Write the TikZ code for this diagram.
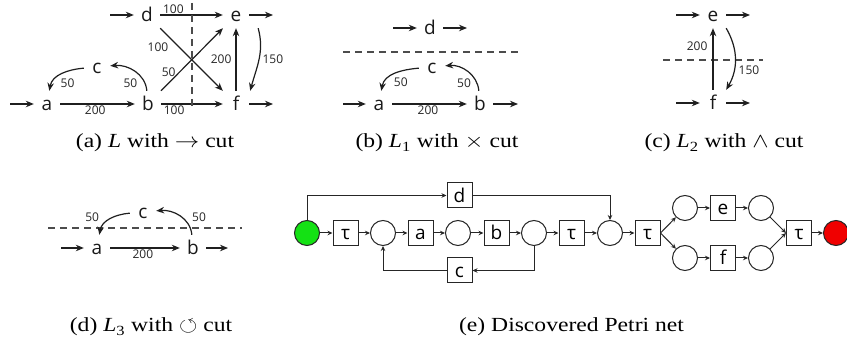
\documentclass[tikz,border=0pt]{standalone}
\usepackage{amssymb}
\usepackage{graphicx}
\usepackage{fontspec}
\setmainfont{Liberation Serif}
\newfontfamily\nodefont{Open Sans}
\usetikzlibrary{arrows.meta,calc}
\definecolor{pgreen}{RGB}{20,225,20}
\definecolor{pred}{RGB}{240,0,0}
\begin{document}
\begin{tikzpicture}[x=1pt,y=-1pt,
  lt/.style={font=\nodefont\fontsize{19}{19}\selectfont, minimum size=26pt, inner sep=0pt, text height=14pt, text depth=0pt, text=black!90},
  lbl/.style={font=\nodefont\fontsize{12}{12}\selectfont, inner sep=1pt, text=black!85},
  arr/.style={draw=black!88, line width=1.2pt, -{Stealth[length=8pt,width=6.5pt]}},
  cutline/.style={draw=black!70, line width=1.2pt, dash pattern=on 7pt off 5pt},
  captext/.style={font=\fontsize{20}{24}\selectfont, anchor=base, inner sep=0pt},
  place/.style={circle, draw=black!85, line width=1pt, minimum size=25pt, inner sep=0pt},
  trans/.style={rectangle, draw=black!85, line width=1pt, minimum size=25pt, inner sep=0pt, text height=14pt, text depth=0pt, font=\nodefont\fontsize{19}{19}\selectfont},
  parr/.style={draw=black!85, line width=1pt, -{Stealth[length=5pt,width=4.5pt]}},
]
\useasboundingbox (0,0) rectangle (847,344);

% ---------- (a) ----------
\node[lt] (d1) at (147,15) {d};
\node[lt] (e1) at (236,15) {e};
\node[lt] (c1) at (97,67) {c};
\node[lt] (a1) at (47,104) {a};
\node[lt] (b1) at (148,104) {b};
\node[lt] (f1) at (236,104) {f};
\coordinate (ina) at (10,104);
\coordinate (ind) at (110,15);
\coordinate (oute) at (273,15);
\coordinate (outf) at (273,104);
\coordinate (cuta1) at (192,3);
\coordinate (cuta2) at (192,110);
\draw[arr] (ina) -- (a1);
\draw[arr] (ind) -- (d1);
\draw[arr] (e1) -- (oute);
\draw[arr] (f1) -- (outf);
\draw[arr] (a1) -- node[lbl,pos=0.47,below] {200} (b1);
\draw[arr] (d1) -- node[lbl,pos=0.21,above] {100} (e1);
\draw[arr] (b1) -- node[lbl,pos=0.21,below] {100} (f1);
\draw[arr] (d1) -- node[lbl,pos=0.3,xshift=-21pt] {100} (f1);
\draw[arr] (b1) -- node[lbl,pos=0.3,xshift=-11pt] {50} (e1);
\draw[arr] (f1) -- node[lbl,left=3pt] {200} (e1);
\draw[arr] ($(e1.south east)+(9,0)$) to[out=-75,in=75] node[lbl,right=2pt] {150} ($(f1.north east)+(1,0)$);
\draw[arr] (c1) to[out=185,in=80] node[lbl,xshift=6pt,yshift=-9pt] {50} (a1);
\draw[arr] (b1) to[out=95,in=5] node[lbl,xshift=-4pt,yshift=-11.5pt] {50} (c1);
\draw[cutline] (cuta1) -- (cuta2);
\node[captext] (capa) at (155,148) {\scalebox{1.18}[1]{(a) \textit{L} with $\rightarrow$ cut}};

% ---------- (b) ----------
\node[lt] (d2) at (430,28) {d};
\node[lt] (c2) at (432,67) {c};
\node[lt] (a2) at (379,104) {a};
\node[lt] (b2) at (480,104) {b};
\coordinate (ind2) at (393,28);
\coordinate (outd2) at (467,28);
\coordinate (ina2) at (343,104);
\coordinate (outb2) at (518,104);
\coordinate (cutb1) at (343,52);
\coordinate (cutb2) at (518,52);
\draw[arr] (ind2) -- (d2);
\draw[arr] (d2) -- (outd2);
\draw[arr] (ina2) -- (a2);
\draw[arr] (b2) -- (outb2);
\draw[arr] (a2) -- node[lbl,pos=0.48,below] {200} (b2);
\draw[arr] (b2) to[out=95,in=5] node[lbl,xshift=-3.5pt,yshift=-11.5pt] {50} (c2);
\draw[arr] (c2) to[out=185,in=80] node[lbl,xshift=6pt,yshift=-9pt] {50} (a2);
\draw[cutline] (cutb1) -- (cutb2);
\node[captext] (capb) at (437,148) {\scalebox{1.18}[1]{(b) \textit{L}\textsubscript{1} with $\times$ cut}};

% ---------- (c) ----------
\node[lt] (e3) at (713,15) {e};
\node[lt] (f3) at (713,103) {f};
\coordinate (ine3) at (676,15);
\coordinate (oute3) at (750,15);
\coordinate (inf3) at (676,103);
\coordinate (outf3) at (750,103);
\coordinate (cutc1) at (663,60);
\coordinate (cutc2) at (763,60);
\draw[arr] (ine3) -- (e3);
\draw[arr] (e3) -- (oute3);
\draw[arr] (inf3) -- (f3);
\draw[arr] (f3) -- (outf3);
\draw[cutline] (cutc1) -- (cutc2);
\draw[arr] (f3) -- node[lbl,pos=0.71,left=4pt] {200} (e3);
\draw[arr] (e3.south east) to[out=-60,in=60] node[lbl,pos=0.68,right=3pt] {150} (f3.north east);
\node[captext] (capc) at (724,148) {\scalebox{1.18}[1]{(c) \textit{L}\textsubscript{2} with $\wedge$ cut}};

% ---------- (d) ----------
\node[lt] (c4) at (143,212) {c};
\node[lt] (a4) at (97,248) {a};
\node[lt] (b4) at (193,248) {b};
\coordinate (ina4) at (61,248);
\coordinate (outb4) at (228,248);
\coordinate (cutd1) at (48,228);
\coordinate (cutd2) at (242,228);
\draw[cutline] (cutd1) -- (cutd2);
\draw[arr] (ina4) -- (a4);
\draw[arr] (b4) -- (outb4);
\draw[arr] (a4) -- node[lbl,pos=0.47,below] {200} (b4);
\draw[arr] (c4) to[out=185,in=80] node[lbl,pos=0.75,xshift=-11pt,yshift=8.5pt] {50} (a4);
\draw[arr] (b4) to[out=95,in=5] node[lbl,pos=0.25,xshift=11pt,yshift=7pt] {50} (c4);
\node[captext] (capd) at (151,332) {\scalebox{1.18}[1]{(d) \textit{L}\textsubscript{3} with $\circlearrowleft$ cut}};

% ---------- (e) ----------
\node[place,fill=pgreen] (gp) at (307,233) {};
\node[trans] (t1) at (345.5,233) {τ};
\node[place] (p1) at (383,233) {};
\node[trans] (ta) at (420.5,233) {a};
\node[place] (p2) at (458,233) {};
\node[trans] (tb) at (496.5,233) {b};
\node[place] (p3) at (534,233) {};
\node[trans] (t2) at (571.5,233) {τ};
\node[place] (p4) at (610,233) {};
\node[trans] (t3) at (647.5,233) {τ};
\node[place] (p5) at (685,208) {};
\node[place] (p6) at (685,258) {};
\node[trans] (te) at (723,208) {e};
\node[trans] (tf) at (723,258) {f};
\node[place] (p7) at (761,208) {};
\node[place] (p8) at (761,258) {};
\node[trans] (t4) at (799,233) {τ};
\node[place,fill=pred] (rp) at (836,233) {};
\node[trans] (td) at (459.5,195.5) {d};
\node[trans] (tc) at (459.5,270.5) {c};
\draw[parr] (gp) -- (t1);
\draw[parr] (t1) -- (p1);
\draw[parr] (p1) -- (ta);
\draw[parr] (ta) -- (p2);
\draw[parr] (p2) -- (tb);
\draw[parr] (tb) -- (p3);
\draw[parr] (p3) -- (t2);
\draw[parr] (t2) -- (p4);
\draw[parr] (p4) -- (t3);
\draw[parr] (gp) |- (td);
\draw[parr] (td) -| (p4);
\draw[parr] (p3) |- (tc);
\draw[parr] (tc) -| (p1);
\draw[parr] (t3.east) -- (p5);
\draw[parr] (t3.east) -- (p6);
\draw[parr] (p5) -- (te);
\draw[parr] (te) -- (p7);
\draw[parr] (p6) -- (tf);
\draw[parr] (tf) -- (p8);
\draw[parr] (p7) -- (t4.west);
\draw[parr] (p8) -- (t4.west);
\draw[parr] (t4) -- (rp);
\node[captext] (cape) at (571.5,332) {\scalebox{1.18}[1]{(e) Discovered Petri net}};
\end{tikzpicture}
\end{document}
